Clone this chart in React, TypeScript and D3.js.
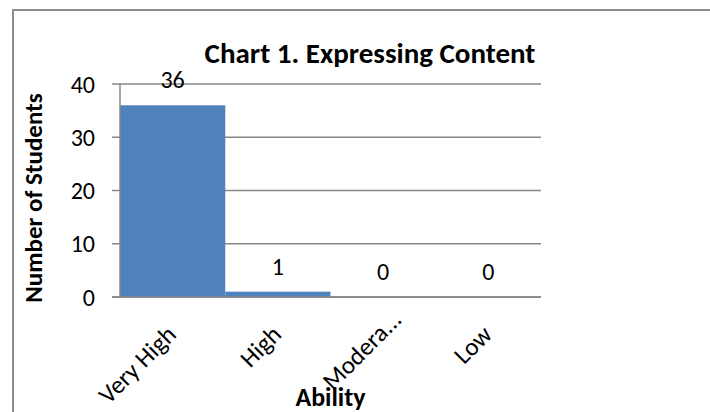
import React from 'react'
import * as d3 from 'd3'

const categories = ['Very High', 'High', 'Moderate', 'Low']
const shownLabels = ['Very High', 'High', 'Modera...', 'Low']
const values = [36, 1, 0, 0]
const yTicks = [0, 10, 20, 30, 40]

const FONT = 'Calibri, Carlito, Lato, "Open Sans", sans-serif'

const App: React.FC = () => {
  const width = 710
  const height = 412
  const plot = { left: 120, right: 541, top: 84, bottom: 297 }

  const x = d3.scaleBand<string>()
    .domain(categories)
    .range([plot.left, plot.right])
    .padding(0)

  const y = d3.scaleLinear()
    .domain([0, 40])
    .range([plot.bottom, plot.top])

  const grid = '#878787'

  return (
    <svg width={width} height={height} style={{ position: 'absolute', left: 0, top: 0, background: '#fff' }}>
      {/* chart frame, runs off the right/bottom of the picture */}
      <rect x={13} y={10} width={900} height={600} fill="#fff" stroke="#8c8c8c" strokeWidth={2} />

      <text x={370} y={63} textAnchor="middle" fontFamily={FONT} fontWeight="bold" fontSize={29} fill="#000">
        Chart 1. Expressing Content
      </text>

      {/* gridlines, ticks, tick labels */}
      {yTicks.map(t => (
        <g key={t}>
          <line x1={plot.left - 8} x2={plot.right} y1={y(t)} y2={y(t)} stroke={grid} strokeWidth={1.5} />
          <text x={95} y={y(t) + 8.5} textAnchor="end" fontFamily={FONT} fontSize={24} fill="#000">{t}</text>
        </g>
      ))}

      {categories.map((c, i) => (
        <rect key={c}
          x={x(c)}
          y={y(values[i])}
          width={x.bandwidth()}
          height={plot.bottom - y(values[i])}
          fill="#4F81BD" />
      ))}

      <line x1={plot.left} x2={plot.left} y1={plot.top} y2={plot.bottom} stroke={grid} strokeWidth={1.5} />
      <line x1={plot.left - 8} x2={plot.right} y1={plot.bottom} y2={plot.bottom} stroke={grid} strokeWidth={1.5} />

      {/* data labels */}
      {categories.map((c, i) => (
        <text key={c} x={(x(c) ?? 0) + x.bandwidth() / 2} y={y(values[i]) - 17}
          textAnchor="middle" fontFamily={FONT} fontSize={24} fill="#000">
          {values[i]}
        </text>
      ))}

      {/* category labels at -45deg; the truncated one sits further out like Excel does */}
      {categories.map((c, i) => {
        const cx = (x(c) ?? 0) + x.bandwidth() / 2
        const shift = shownLabels[i] !== c ? 21 : 0
        const px = cx + 5 + shift * 0.707
        const py = 336 - shift * 0.707
        return (
          <text key={c} transform={`translate(${px},${py}) rotate(-45)`}
            textAnchor="end" fontFamily={FONT} fontSize={25} fill="#000">
            {shownLabels[i]}
          </text>
        )
      })}

      <text x={(plot.left + plot.right) / 2} y={406} textAnchor="middle" fontFamily={FONT} fontWeight="bold" fontSize={26} fill="#000">
        Ability
      </text>
      <text transform="translate(42,198) rotate(-90)" textAnchor="middle"
        fontFamily={FONT} fontWeight="bold" fontSize={25} fill="#000">
        Number of Students
      </text>
    </svg>
  )
}

export default App
